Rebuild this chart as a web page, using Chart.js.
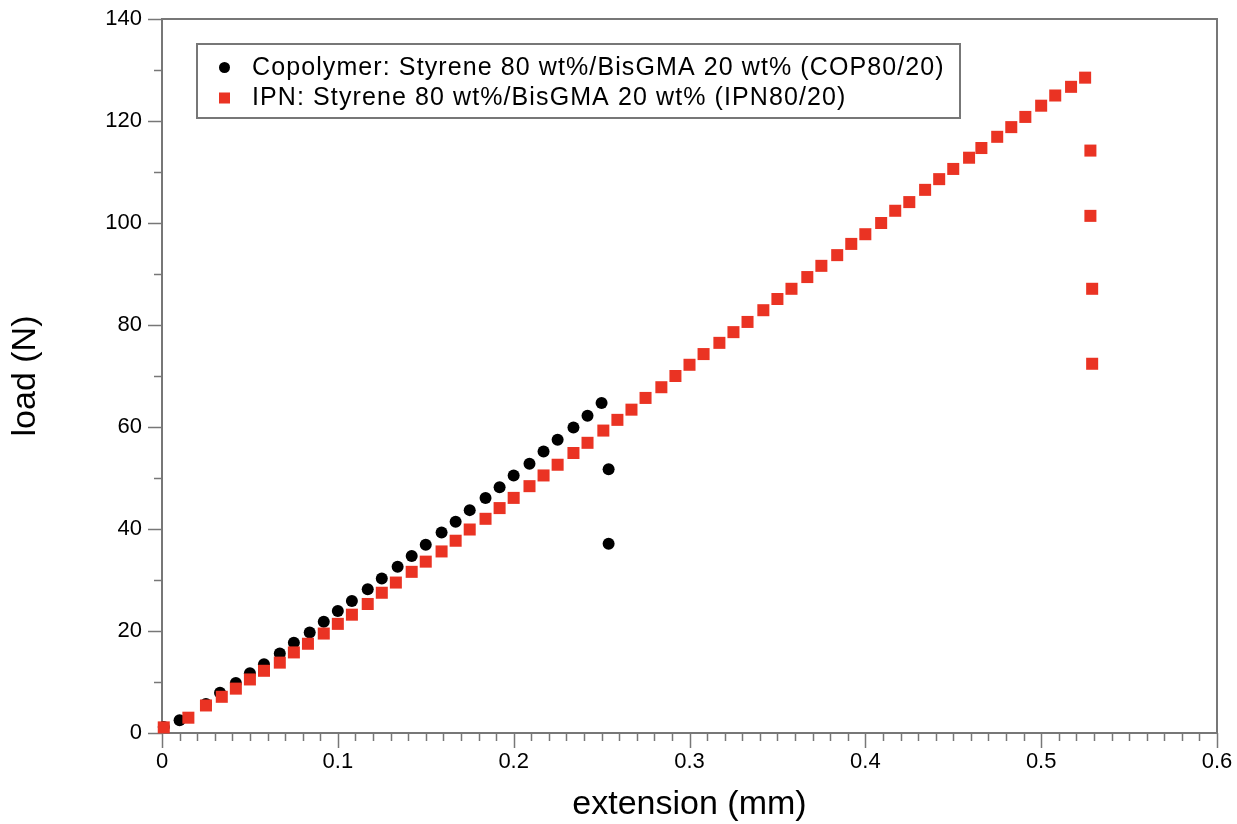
<!DOCTYPE html>
<html>
<head>
<meta charset="utf-8">
<title>load vs extension</title>
<script src="https://cdn.jsdelivr.net/npm/chart.js@4.4.0/dist/chart.umd.min.js"></script>
<style>
  html, body { margin: 0; padding: 0; background: #fff; }
  #wrap { width: 1237px; height: 824px; }
</style>
</head>
<body>
<div id="wrap"><canvas id="loadChart" width="1237" height="824"></canvas></div>
<script>
// Copolymer COP80/20: extension (mm) and load (N)
const copExt = [0.001, 0.010, 0.025, 0.033, 0.042, 0.050, 0.058, 0.067, 0.075, 0.084,
                0.092, 0.100, 0.108, 0.117, 0.125, 0.134, 0.142, 0.150, 0.159, 0.167,
                0.175, 0.184, 0.192, 0.200, 0.209, 0.217, 0.225, 0.234, 0.242, 0.250,
                0.254, 0.254];
const copLoad = [1.2, 2.5, 5.7, 7.9, 9.8, 11.7, 13.5, 15.6, 17.7, 19.7,
                 21.8, 23.9, 25.9, 28.2, 30.3, 32.6, 34.7, 36.9, 39.3, 41.4,
                 43.7, 46.1, 48.2, 50.5, 52.8, 55.2, 57.5, 59.9, 62.2, 64.7,
                 51.7, 37.1];

// IPN80/20: extension (mm) and load (N)
const ipnExt = [0.001, 0.015, 0.025, 0.034, 0.042, 0.050, 0.058, 0.067, 0.075, 0.083,
                0.092, 0.100, 0.108, 0.117, 0.125, 0.133, 0.142, 0.150, 0.159, 0.167,
                0.175, 0.184, 0.192, 0.200, 0.209, 0.217, 0.225, 0.234, 0.242, 0.251,
                0.259, 0.267, 0.275, 0.284, 0.292, 0.300, 0.308, 0.317, 0.325, 0.333,
                0.342, 0.350, 0.358, 0.367, 0.375, 0.384, 0.392, 0.400, 0.409, 0.417,
                0.425, 0.434, 0.442, 0.450, 0.459, 0.466, 0.475, 0.483, 0.491, 0.500,
                0.508, 0.517, 0.525, 0.528, 0.528, 0.529, 0.529];
const ipnLoad = [1.1, 3.0, 5.4, 7.1, 8.7, 10.5, 12.2, 13.8, 15.8, 17.5,
                 19.5, 21.4, 23.2, 25.3, 27.5, 29.5, 31.6, 33.6, 35.6, 37.7,
                 39.9, 42.0, 44.1, 46.1, 48.4, 50.5, 52.6, 54.9, 56.9, 59.3,
                 61.4, 63.4, 65.7, 67.8, 70.0, 72.2, 74.3, 76.5, 78.6, 80.6,
                 82.9, 85.1, 87.1, 89.4, 91.6, 93.7, 95.9, 97.8, 100.0, 102.4,
                 104.1, 106.5, 108.6, 110.6, 112.8, 114.7, 116.9, 118.8, 120.8, 123.0,
                 125.0, 126.7, 128.5, 114.2, 101.4, 87.1, 72.4];

const seriesLabels = ['Copolymer: Styrene 80 wt%/BisGMA 20 wt% (COP80/20)',
                      'IPN: Styrene 80 wt%/BisGMA 20 wt% (IPN80/20)'];
const seriesColors = ['#000000', '#ea3323'];

const xTicks = [0, 0.1, 0.2, 0.3, 0.4, 0.5, 0.6];
const yTicks = [0, 20, 40, 60, 80, 100, 120, 140];
const xMinorStep = 0.01;
const yMinorStep = 10;

const axisColor = '#777777';
Chart.defaults.font.family = '"Liberation Sans", Arial, Helvetica, sans-serif';

function toPoints(xs, ys) {
    return xs.map((x, i) => ({ x: x, y: ys[i] }));
}

function isMajor(v, list) {
    return list.some(t => Math.abs(t - v) < 1e-6);
}

// box around the plot plus outward tick marks (long = labelled, short = minor)
const frameTicks = {
    id: 'frameTicks',
    beforeDatasetsDraw(chart) {
        const ctx = chart.ctx;
        const area = chart.chartArea;
        const sx = chart.scales.x;
        const sy = chart.scales.y;
        ctx.save();
        ctx.strokeStyle = axisColor;

        ctx.lineWidth = 1.5;
        ctx.beginPath();
        const nx = Math.round((sx.max - sx.min) / xMinorStep);
        for (let i = 0; i <= nx; i++) {
            const v = sx.min + i * xMinorStep;
            const px = Math.round(sx.getPixelForValue(v)) + 0.5;
            ctx.moveTo(px, area.bottom);
            ctx.lineTo(px, area.bottom + (isMajor(v, xTicks) ? 15 : 8));
        }
        const ny = Math.round((sy.max - sy.min) / yMinorStep);
        for (let i = 0; i <= ny; i++) {
            const v = sy.min + i * yMinorStep;
            const py = Math.round(sy.getPixelForValue(v)) + 0.5;
            ctx.moveTo(area.left, py);
            ctx.lineTo(area.left - (isMajor(v, yTicks) ? 14 : 8), py);
        }
        ctx.stroke();

        ctx.lineWidth = 2;
        ctx.strokeRect(area.left, area.top, area.right - area.left, area.bottom - area.top);
        ctx.restore();
    }
};

// boxed legend in the upper left of the plot
const boxLegend = {
    id: 'boxLegend',
    afterDraw(chart) {
        const ctx = chart.ctx;
        ctx.save();
        ctx.fillStyle = '#ffffff';
        ctx.fillRect(197, 44, 763, 74);
        ctx.strokeStyle = axisColor;
        ctx.lineWidth = 2;
        ctx.strokeRect(197, 44, 763, 74);

        ctx.font = '25px "Liberation Sans", Arial, Helvetica, sans-serif';
        ctx.letterSpacing = '1.1px';
        ctx.textBaseline = 'alphabetic';
        ctx.textAlign = 'left';
        chart.data.datasets.forEach((ds, i) => {
            const cy = 67.5 + i * 30.5;
            ctx.fillStyle = ds.backgroundColor;
            if (ds.pointStyle === 'rect') {
                ctx.fillRect(219, cy - 5.5, 11, 11);
            } else {
                ctx.beginPath();
                ctx.arc(224.5, cy, 5.5, 0, Math.PI * 2);
                ctx.fill();
            }
            ctx.fillStyle = '#000000';
            ctx.fillText(ds.label, 252, cy + 7);
        });
        ctx.restore();
    }
};

// invisible tick marks: they only push the labels away from the axis
const hiddenGrid = len => ({
    display: true,
    drawOnChartArea: false,
    drawTicks: true,
    tickLength: len,
    color: 'rgba(0,0,0,0)'
});

const ctx = document.getElementById('loadChart').getContext('2d');

const loadChart = new Chart(ctx, {
    type: 'scatter',
    data: {
        datasets: [{
            label: seriesLabels[0],
            data: toPoints(copExt, copLoad),
            pointStyle: 'circle',
            pointRadius: 6,
            backgroundColor: seriesColors[0],
            borderWidth: 0,
            clip: false,
            order: 1
        }, {
            label: seriesLabels[1],
            data: toPoints(ipnExt, ipnLoad),
            pointStyle: 'rect',
            pointRadius: 8.5,
            backgroundColor: seriesColors[1],
            borderWidth: 0,
            clip: false,
            order: 0
        }]
    },
    options: {
        responsive: false,
        animation: false,
        devicePixelRatio: 1,
        layout: { padding: { left: 0, right: 20, top: 19, bottom: 0 } },
        plugins: {
            legend: { display: false },
            tooltip: { enabled: false }
        },
        scales: {
            x: {
                type: 'linear',
                min: 0,
                max: 0.6,
                afterBuildTicks: s => { s.ticks = xTicks.map(v => ({ value: v })); },
                afterFit: s => { s.height = 91; },
                grid: hiddenGrid(16),
                border: { display: false },
                ticks: {
                    color: '#000000',
                    font: { size: 22 },
                    padding: 0,
                    maxRotation: 0,
                    autoSkip: false,
                    callback: v => String(Number(v.toFixed(1)))
                },
                title: {
                    display: true,
                    text: 'extension (mm)',
                    color: '#000000',
                    font: { size: 34 },
                    padding: { top: 0, bottom: -1 }
                }
            },
            y: {
                type: 'linear',
                min: 0,
                max: 140,
                afterBuildTicks: s => { s.ticks = yTicks.map(v => ({ value: v })); },
                afterFit: s => { s.width = 162; },
                grid: hiddenGrid(20),
                border: { display: false },
                ticks: {
                    color: '#000000',
                    font: { size: 22 },
                    padding: 0,
                    autoSkip: false
                },
                title: {
                    display: true,
                    text: 'load (N)',
                    color: '#000000',
                    font: { size: 34 },
                    padding: { top: 5, bottom: 0 }
                }
            }
        }
    },
    plugins: [frameTicks, boxLegend]
});
</script>
</body>
</html>
